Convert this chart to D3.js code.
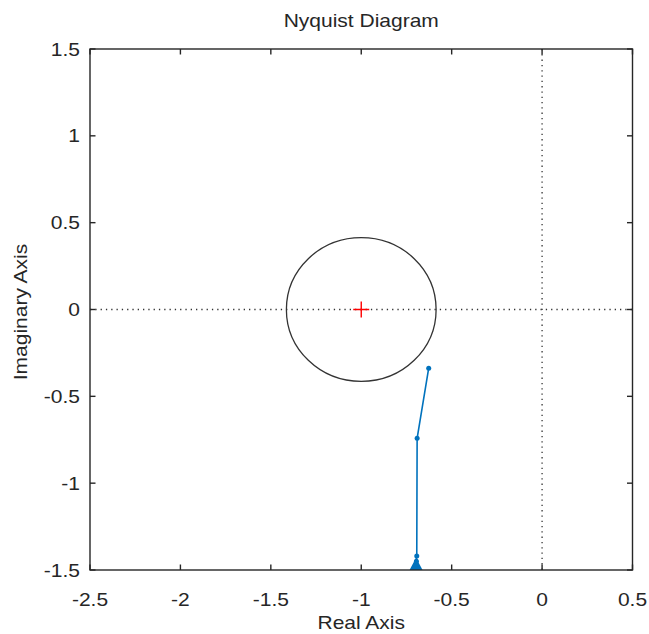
<!DOCTYPE html>
<html><head><meta charset="utf-8">
<script src="https://cdn.jsdelivr.net/npm/d3@7"></script>
<style>body{margin:0;background:#fff;} text{font-family:"Liberation Sans",Arial,sans-serif;}</style>
</head><body><svg id="c" width="649" height="634"></svg>
<script>
const xTicks = [-2.5, -2, -1.5, -1, -0.5, 0, 0.5];
const yTicks = [-1.5, -1, -0.5, 0, 0.5, 1, 1.5];
const nyqRe = [-0.627, -0.691, -0.693, -0.695, -0.697, -0.698, -0.699, -0.700];
const nyqIm = [-0.338, -0.742, -1.42, -1.45, -1.48, -1.52, -1.8, -3.0];
const criticalPoint = [-1, 0];
const circleRadius = 0.414;

const W = 649, H = 634;
const m = {l: 90, r: 16.5, t: 49, b: 64};
const svg = d3.select("#c");
const x = d3.scaleLinear().domain([-2.5, 0.5]).range([m.l, W - m.r]);
const y = d3.scaleLinear().domain([-1.5, 1.5]).range([H - m.b, m.t]);
const FS = 17.5, SX = 1.2, TC = "#262626";

function label(px, py, txt, anchor, rot) {
  svg.append("text")
    .attr("transform", `translate(${px},${py})${rot ? " rotate(" + rot + ")" : ""} scale(${SX},1)`)
    .attr("text-anchor", anchor).attr("font-size", FS).attr("fill", TC).text(txt);
}

svg.append("defs").append("clipPath").attr("id", "clip")
  .append("rect").attr("x", x(-2.5)).attr("y", y(1.5))
  .attr("width", x(0.5) - x(-2.5)).attr("height", y(-1.5) - y(1.5));

const g = svg.append("g").attr("clip-path", "url(#clip)");

// dotted zero lines
g.append("line").attr("x1", x(-2.5)).attr("x2", x(0.5)).attr("y1", y(0)).attr("y2", y(0))
  .attr("stroke", "#333").attr("stroke-width", 1.3).attr("stroke-dasharray", "1.3,4");
g.append("line").attr("x1", x(0)).attr("x2", x(0)).attr("y1", y(1.5)).attr("y2", y(-1.5))
  .attr("stroke", "#333").attr("stroke-width", 1.3).attr("stroke-dasharray", "1.3,4");

// circle
g.append("ellipse").attr("cx", x(criticalPoint[0])).attr("cy", y(criticalPoint[1]))
  .attr("rx", x(circleRadius) - x(0)).attr("ry", y(0) - y(circleRadius))
  .attr("fill", "none").attr("stroke", "#333").attr("stroke-width", 1.3);

// critical point
const cx = x(criticalPoint[0]), cy = y(criticalPoint[1]);
g.append("path").attr("d", `M${cx-8},${cy}H${cx+8}M${cx},${cy-8}V${cy+8}`)
  .attr("stroke", "#ff0000").attr("stroke-width", 1.4);

// nyquist curve
const pts = nyqRe.map((r, i) => [r, nyqIm[i]]);
g.append("path").datum(pts)
  .attr("d", d3.line().x(d => x(d[0])).y(d => y(d[1])))
  .attr("fill", "none").attr("stroke", "#0072BD").attr("stroke-width", 1.6);
g.selectAll("circle.pt").data(pts.slice(0, 6)).join("circle")
  .attr("cx", d => x(d[0])).attr("cy", d => y(d[1])).attr("r", 2.5).attr("fill", "#0072BD");
// arrow head near bottom
const ax = x(nyqRe[4]), ay = y(-1.43);
g.append("path").attr("d", `M${ax},${ay}L${ax+6.5},${y(-1.5)}L${ax-6.5},${y(-1.5)}Z`)
  .attr("fill", "#0072BD");

// axes box
const X0 = x(-2.5), X1 = x(0.5), Y0 = y(-1.5), Y1 = y(1.5);
svg.append("rect").attr("x", X0).attr("y", Y1).attr("width", X1 - X0).attr("height", Y0 - Y1)
  .attr("fill", "none").attr("stroke", TC).attr("stroke-width", 1.4);

const tl = 5.5;
const ax1 = svg.append("g").attr("stroke", TC).attr("stroke-width", 1.4);
xTicks.forEach(t => {
  ax1.append("line").attr("x1", x(t)).attr("x2", x(t)).attr("y1", Y0).attr("y2", Y0 - tl);
  ax1.append("line").attr("x1", x(t)).attr("x2", x(t)).attr("y1", Y1).attr("y2", Y1 + tl);
});
yTicks.forEach(t => {
  ax1.append("line").attr("x1", X0).attr("x2", X0 + tl).attr("y1", y(t)).attr("y2", y(t));
  ax1.append("line").attr("x1", X1).attr("x2", X1 - tl).attr("y1", y(t)).attr("y2", y(t));
});

const fmt = d => String(d);
xTicks.forEach(t => label(x(t), Y0 + 36, fmt(t), "middle"));
yTicks.forEach(t => label(X0 - 10, y(t) + 6.5, fmt(t), "end"));

label((X0 + X1) / 2, 27, "Nyquist Diagram", "middle");
label((X0 + X1) / 2, 629, "Real Axis", "middle");
label(27, 312, "Imaginary Axis", "middle", -90);
</script></body></html>
